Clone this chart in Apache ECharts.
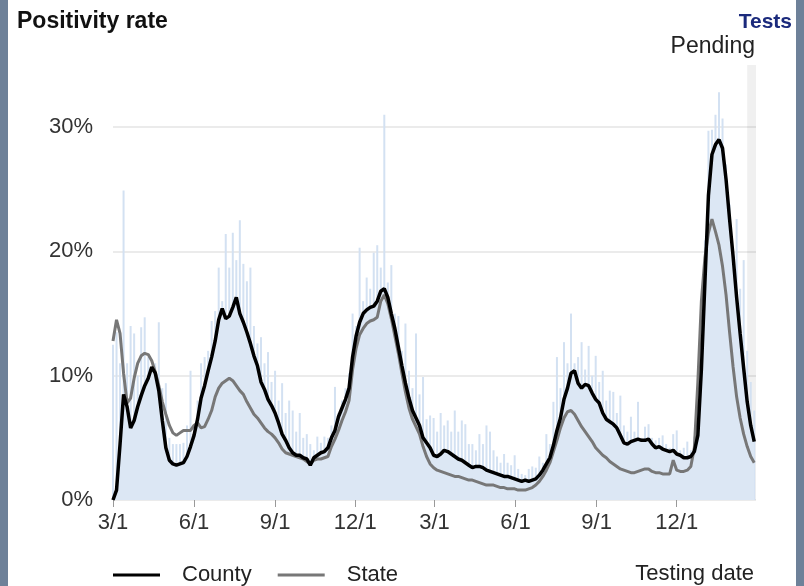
<!DOCTYPE html>
<html>
<head>
<meta charset="utf-8">
<script src="https://cdn.jsdelivr.net/npm/echarts@6/dist/echarts.min.js"></script>
<style>
html, body { margin: 0; padding: 0; background: #fff; }
#chart { width: 804px; height: 586px; }
</style>
</head>
<body>
<div id="chart"></div>
<script>
// one reading every 4 days, starting 3/1/2020 (day 0)
var dayStep = 4;

// 7-day positivity, county (%)
var county = [
  0.0, 0.8, 4.5, 8.5, 7.5, 5.8, 6.4, 7.5, 8.4, 9.2,
  9.8, 10.7, 10.2, 8.8, 6.4, 4.2, 3.2, 2.9, 2.8, 2.9,
  3.0, 3.5, 4.3, 5.2, 6.5, 8.2, 9.2, 10.4, 11.5, 12.8,
  14.5, 15.4, 14.6, 14.8, 15.5, 16.3, 15.0, 14.3, 13.5, 12.6,
  11.6, 10.8, 9.5, 8.9, 8.1, 7.6, 7.0, 6.2, 5.3, 4.8,
  4.2, 3.8, 3.6, 3.6, 3.4, 3.3, 2.8, 3.4, 3.6, 3.8,
  3.9, 4.2, 5.0, 5.6, 6.7, 7.4, 8.1, 9.0, 11.5, 13.2,
  14.3, 15.0, 15.3, 15.5, 15.6, 16.0, 16.8, 17.0, 16.3, 15.0,
  13.8, 12.3, 10.8, 9.4, 8.2, 7.2, 6.6, 6.0, 5.0, 4.6,
  4.2, 3.6, 3.5, 3.7, 4.0, 3.9, 3.7, 3.5, 3.3, 3.2,
  3.0, 2.8, 2.6, 2.7, 2.7, 2.6, 2.4, 2.3, 2.2, 2.1,
  2.0, 1.9, 1.9, 1.8, 1.7, 1.6, 1.5, 1.6, 1.5, 1.6,
  1.7, 2.0, 2.4, 2.9, 3.4, 4.4, 5.6, 6.6, 8.1, 9.0,
  10.2, 10.4, 9.4, 9.0, 9.3, 9.2, 8.6, 8.1, 7.8, 7.0,
  6.5, 6.3, 6.1, 5.8, 5.2, 4.6, 4.5, 4.7, 4.8, 4.9,
  4.8, 4.8, 4.9, 4.5, 4.2, 4.3, 4.1, 4.0, 3.9, 4.0,
  3.7, 3.6, 3.4, 3.4, 3.5, 3.9, 5.2, 10.5, 17.5, 24.5,
  27.8, 28.6, 29.0, 28.3, 25.8, 22.6, 19.6, 16.3, 13.4, 10.6,
  7.9, 6.0, 4.7
];

// 7-day positivity, state (%)
var state = [
  12.8, 14.5, 13.4, 10.2, 7.8, 8.2, 9.8, 11.0, 11.6, 11.8,
  11.7, 11.2, 10.3, 9.2, 7.9, 6.9, 6.0, 5.4, 5.2, 5.4,
  5.6, 5.6, 5.6, 6.0, 6.2, 5.8, 5.9, 6.5, 7.2, 8.3,
  9.0, 9.4, 9.6, 9.8, 9.6, 9.2, 8.8, 8.5, 7.9, 7.4,
  6.9, 6.6, 6.2, 5.8, 5.5, 5.3, 5.0, 4.6, 4.1, 3.8,
  3.7, 3.6, 3.5, 3.4, 3.3, 3.1, 2.9, 3.2, 3.3, 3.3,
  3.4, 3.5, 4.3, 4.9, 5.6, 6.4, 7.1, 8.0, 10.5, 12.2,
  13.3, 13.8, 14.2, 14.4, 14.5, 14.7, 16.0, 16.5, 15.8, 14.6,
  13.2, 11.8, 10.2, 8.7, 7.4, 6.5, 5.9, 5.3, 4.3, 3.5,
  2.9, 2.6, 2.4, 2.3, 2.2, 2.1, 2.0, 1.9, 1.9, 1.8,
  1.7, 1.6, 1.6, 1.5, 1.4, 1.3, 1.2, 1.2, 1.2, 1.1,
  1.0, 1.0, 0.9, 0.9, 0.9, 0.8, 0.8, 0.8, 0.9, 1.0,
  1.2, 1.5, 1.9, 2.4, 3.0, 3.9, 4.8, 5.8, 6.6, 7.1,
  7.2, 6.9, 6.4, 5.9, 5.5, 5.1, 4.7, 4.2, 3.9, 3.6,
  3.4, 3.1, 2.9, 2.7, 2.5, 2.4, 2.3, 2.2, 2.2, 2.3,
  2.4, 2.5, 2.5, 2.3, 2.2, 2.2, 2.1, 2.1, 2.1, 3.2,
  2.4, 2.3, 2.3, 2.4, 2.7, 4.2, 9.5, 16.0, 19.5, 21.5,
  22.6, 21.6, 20.5, 18.8, 16.5, 13.5, 10.7, 8.3, 6.6, 5.3,
  4.3, 3.5, 3.0
];

// daily county positivity (%)
var daily = [
  12.5, 13.5, 11.0, 24.9, 11.0, 14.0, 13.4, 10.0, 13.9, 14.7,
  11.5, 10.5, 11.0, 14.3, 9.0, 9.4, 5.0, 4.5, 4.5, 4.5,
  4.6, 6.0, 10.4, 5.9, 8.0, 11.0, 11.5, 12.0, 14.4, 15.2,
  18.7, 16.0, 21.4, 18.7, 21.5, 19.3, 22.5, 19.0, 17.6, 18.7,
  14.0, 12.6, 13.1, 11.0, 11.9, 9.5, 10.4, 8.0, 9.4, 7.0,
  8.0, 7.2, 5.5, 7.0, 5.0, 5.3, 4.5, 4.0, 5.1, 4.6,
  5.1, 5.0, 6.0, 9.1, 7.0, 8.0, 9.0, 10.2, 15.0, 14.0,
  20.3, 16.0, 17.9, 17.0, 19.9, 20.5, 18.7, 31.0, 17.5, 18.9,
  15.0, 14.8, 12.0, 14.2, 10.4, 9.0, 13.4, 8.5, 9.9, 6.5,
  6.8, 6.6, 5.5, 7.0, 6.0, 6.4, 5.5, 7.2, 5.5, 6.4,
  6.1, 4.5, 4.5, 4.0, 5.3, 4.5, 6.0, 5.5, 4.0, 3.5,
  3.0, 3.7, 3.0, 2.8, 3.6, 2.5, 2.1, 2.0, 2.5, 2.7,
  2.6, 3.5, 3.0, 5.3, 4.5, 7.9, 11.5, 9.0, 12.7, 11.0,
  15.0, 11.0, 11.5, 12.7, 10.5, 12.4, 10.0, 11.6, 9.5, 10.4,
  8.0, 8.8, 8.7, 7.0, 8.4, 6.0, 5.5, 6.7, 5.5, 7.9,
  5.0, 5.9, 6.1, 5.0, 4.8, 5.0, 5.2, 4.5, 4.2, 5.3,
  5.6, 4.0, 4.2, 4.7, 4.0, 5.1, 8.0, 14.0, 20.9, 29.7,
  29.8, 31.0, 32.8, 30.7, 27.0, 23.8, 20.0, 22.6, 17.0, 19.3,
  12.0, 9.5, 7.2
];

// x axis ticks (days since 3/1/2020)
var tickDays = [0, 92, 184, 275, 365, 457, 549, 640];
var tickLabels = ['3/1', '6/1', '9/1', '12/1', '3/1', '6/1', '9/1', '12/1'];
var pendingFrom = 720;
var lastDay = 730;

var FONT = 'Liberation Sans, Arial, sans-serif';

function pairs(arr) {
    return arr.map(function (v, i) { return [i * dayStep, v]; });
}

var myChart = echarts.init(document.getElementById('chart'));
var option = {
    animation: false,
    textStyle: { fontFamily: FONT },
    grid: { left: 113, right: 48, top: 65, bottom: 86 },
    legend: {
        data: ['County', 'State'],
        left: 113,
        top: 564,
        padding: 0,
        icon: 'rect',
        itemWidth: 47,
        itemHeight: 3,
        itemGap: 26,
        selectedMode: false,
        textStyle: { fontSize: 22, color: '#222', fontFamily: FONT, padding: [0, 0, 0, 17] }
    },
    xAxis: {
        type: 'value',
        min: 0,
        max: lastDay,
        axisLine: { show: false },
        splitLine: { show: false },
        axisTick: {
            customValues: tickDays,
            length: 7,
            lineStyle: { color: '#999' }
        },
        axisLabel: {
            customValues: tickDays,
            margin: 12,
            fontSize: 22,
            color: '#333',
            fontFamily: FONT,
            formatter: function (v) {
                var k = tickDays.indexOf(v);
                return k >= 0 ? tickLabels[k] : '';
            }
        }
    },
    yAxis: {
        type: 'value',
        min: 0,
        max: 35,
        interval: 10,
        axisLine: { show: false },
        axisTick: { show: false },
        axisLabel: {
            margin: 20,
            fontSize: 22,
            color: '#333',
            fontFamily: FONT,
            formatter: function (v) { return v > 30 ? '' : v + '%'; }
        },
        splitLine: {
            lineStyle: {
                color: ['#e4e4e4', '#e4e4e4', '#e4e4e4', '#e4e4e4', 'rgba(0,0,0,0)'],
                width: 1.5
            }
        }
    },
    series: [
        {
            name: 'Daily',
            type: 'bar',
            data: pairs(daily),
            barWidth: 2,
            silent: true,
            itemStyle: { color: '#d3e1f2' },
            z: 1
        },
        {
            name: 'fill',
            type: 'line',
            data: pairs(county),
            symbol: 'none',
            silent: true,
            lineStyle: { width: 0, opacity: 0 },
            areaStyle: { color: '#dce7f4', opacity: 1 },
            z: 2,
            markArea: {
                silent: true,
                itemStyle: { color: 'rgba(0,0,0,0.06)' },
                data: [[{ xAxis: pendingFrom }, { xAxis: lastDay }]]
            }
        },
        {
            name: 'State',
            type: 'line',
            data: pairs(state),
            symbol: 'none',
            color: '#777',
            lineStyle: { color: '#777', width: 3 },
            z: 3
        },
        {
            name: 'County',
            type: 'line',
            data: pairs(county),
            symbol: 'none',
            color: '#000',
            lineStyle: { color: '#000', width: 3.5 },
            z: 4
        }
    ],
    graphic: [
        { type: 'rect', left: 0, top: 0, shape: { width: 8, height: 586 }, style: { fill: '#6e8199' } },
        { type: 'rect', left: 796, top: 0, shape: { width: 8, height: 586 }, style: { fill: '#6e8199' } },
        { type: 'text', x: 17, y: 22, style: { text: 'Positivity rate', font: 'bold 23px ' + FONT, fill: '#111', textVerticalAlign: 'middle' } },
        { type: 'text', x: 792, y: 22, style: { text: 'Tests', font: 'bold 21px ' + FONT, fill: '#1b2a7c', textAlign: 'right', textVerticalAlign: 'middle' } },
        { type: 'text', x: 755, y: 47, style: { text: 'Pending', font: '23px ' + FONT, fill: '#222', textAlign: 'right', textVerticalAlign: 'middle' } },
        { type: 'text', x: 754, y: 574, style: { text: 'Testing date', font: '22px ' + FONT, fill: '#222', textAlign: 'right', textVerticalAlign: 'middle' } }
    ]
};
option && myChart.setOption(option);
</script>
</body>
</html>
